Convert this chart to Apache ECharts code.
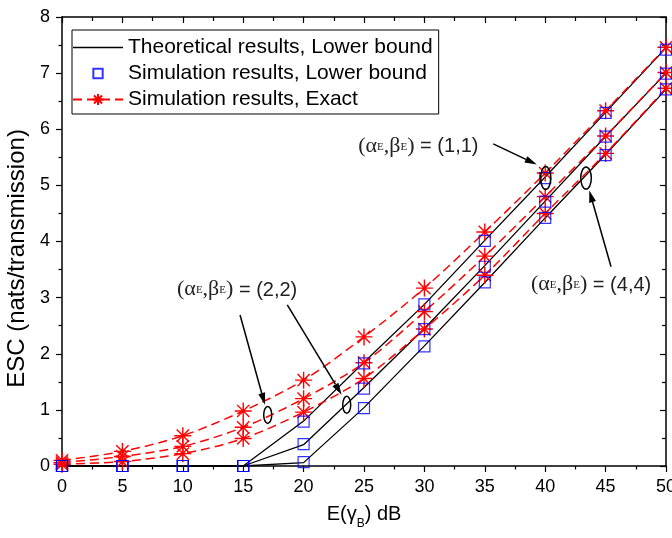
<!DOCTYPE html>
<html>
<head>
<meta charset="utf-8">
<script src="https://cdn.jsdelivr.net/npm/echarts@6/dist/echarts.min.js"></script>
<style>
  html, body { margin: 0; padding: 0; background: #fff; }
  #main { width: 672px; height: 538px; }
</style>
</head>
<body>
<div id="main"></div>
<script>
// x positions (dB)
const snr = [0, 5, 10, 15, 20, 25, 30, 35, 40, 45, 50];

// theoretical lower bound, (1,1) (2,2) (4,4)
const theory11 = [0, 0, 0, 0, 0.80, 1.85, 2.88, 4.02, 5.15, 6.30, 7.45];
const theory22 = [0, 0, 0, 0, 0.38, 1.40, 2.45, 3.57, 4.72, 5.87, 7.00];
const theory44 = [0, 0, 0, 0, 0.06, 1.04, 2.14, 3.27, 4.42, 5.55, 6.71];

// simulated lower bound (squares)
const simLow11 = [0, 0, 0, 0, 0.79, 1.83, 2.88, 4.01, 5.13, 6.29, 7.42];
const simLow22 = [0, 0, 0, 0, 0.39, 1.38, 2.44, 3.55, 4.71, 5.87, 6.99];
const simLow44 = [0, 0, 0, 0, 0.07, 1.03, 2.13, 3.27, 4.42, 5.54, 6.71];

// simulated exact (stars)
const exact11 = [0.10, 0.26, 0.54, 0.98, 1.53, 2.30, 3.17, 4.17, 5.22, 6.33, 7.46];
const exact22 = [0.06, 0.17, 0.35, 0.69, 1.20, 1.84, 2.75, 3.74, 4.80, 5.88, 7.01];
const exact44 = [0.03, 0.08, 0.22, 0.49, 0.96, 1.56, 2.44, 3.40, 4.50, 5.57, 6.73];

const legendNames = [
  'Theoretical results, Lower bound',
  'Simulation results, Lower bound',
  'Simulation results, Exact'
];

const sans = 'Liberation Sans, Arial, sans-serif';
const serif = 'Liberation Serif, Times New Roman, serif';
const starPath = 'path://M0,-1L0,1M-1,0L1,0M-0.72,-0.72L0.72,0.72M-0.72,0.72L0.72,-0.72';
const squarePath = 'path://M0,0L1,0L1,1L0,1Z';

const pairs = ys => snr.map((x, i) => [x, ys[i]]);

function theoryLine(ys) {
  return {
    name: legendNames[0], type: 'line', data: pairs(ys),
    symbol: 'none', z: 2,
    itemStyle: { color: '#000' },
    lineStyle: { color: '#000', width: 1.3 }
  };
}
function squares(ys) {
  return {
    name: legendNames[1], type: 'scatter', data: pairs(ys),
    symbol: squarePath, symbolSize: 11, z: 4,
    itemStyle: { color: 'rgba(0,0,0,0)', borderColor: '#0000ff', borderWidth: 1.2 }
  };
}
function exactLine(ys) {
  return {
    name: legendNames[2], type: 'line', data: pairs(ys),
    symbol: starPath, symbolSize: 17, smooth: 0.3, z: 3,
    lineStyle: { color: '#ff0000', width: 1.5, type: [9, 5] },
    itemStyle: { color: '#ff0000', borderColor: '#ff0000', borderWidth: 1.4 }
  };
}

const chart = echarts.init(document.getElementById('main'));

const baseAxis = {
  type: 'value',
  axisLine: { show: true, onZero: false, lineStyle: { color: '#000', width: 1.5 } },
  splitLine: { show: false }
};

chart.setOption({
  animation: false,
  backgroundColor: '#fff',
  grid: { left: 62, right: 6, top: 17, bottom: 72, outerBoundsMode: 'none' },
  legend: {
    data: [
      { name: legendNames[0], icon: 'path://M0,0L50,0L50,1.5L0,1.5Z' },
      { name: legendNames[1], icon: 'path://M0,0L1,0L1,1L0,1ZM-0.25,-0.25L-0.25,-0.25M1.25,1.25L1.25,1.25' },
      { name: legendNames[2] }
    ],
    orient: 'vertical',
    left: 72, top: 30,
    itemWidth: 50, itemHeight: 14, itemGap: 5,
    padding: [7, 6, 4, 0],
    borderColor: '#000', borderWidth: 1,
    textStyle: { fontSize: 21, color: '#000', fontFamily: sans }
  },
  xAxis: [
    Object.assign({}, baseAxis, {
      min: 0, max: 50, interval: 5, position: 'bottom',
      name: '{a|E(γ}{s|B}{a|) dB}', nameLocation: 'middle', nameGap: 38,
      nameTextStyle: {
        rich: {
          a: { fontSize: 20, fontFamily: sans, color: '#000', lineHeight: 24, verticalAlign: 'top' },
          s: { fontSize: 12, fontFamily: sans, color: '#000', lineHeight: 12, padding: [14, 0, 0, 0], verticalAlign: 'top' }
        }
      },
      axisTick: { show: true, inside: false, length: 6, lineStyle: { color: '#000', width: 1.2 } },
      minorTick: { show: true, splitNumber: 2, length: 3.5, lineStyle: { color: '#000', width: 1.2 } },
      axisLabel: { fontSize: 18, color: '#000', fontFamily: sans, margin: 12 }
    }),
    Object.assign({}, baseAxis, {
      min: 0, max: 50, interval: 5, position: 'top',
      axisTick: { show: true, inside: true, length: 6, lineStyle: { color: '#000', width: 1.2 } },
      minorTick: { show: true, splitNumber: 2, length: 4, lineStyle: { color: '#000', width: 1.2 } },
      axisLabel: { show: false }
    })
  ],
  yAxis: [
    Object.assign({}, baseAxis, {
      min: 0, max: 8, interval: 1, position: 'left',
      name: 'ESC (nats/transmission)', nameLocation: 'middle', nameGap: 29,
      nameTextStyle: { fontSize: 24, color: '#000', fontFamily: sans, padding: [0, 34, 0, 0] },
      axisTick: { show: true, inside: false, length: 6, lineStyle: { color: '#000', width: 1.2 } },
      minorTick: { show: true, splitNumber: 2, length: 3.5, lineStyle: { color: '#000', width: 1.2 } },
      axisLabel: { fontSize: 18, color: '#000', fontFamily: sans, margin: 12 }
    }),
    Object.assign({}, baseAxis, {
      min: 0, max: 8, interval: 1, position: 'right',
      axisTick: { show: true, inside: true, length: 6, lineStyle: { color: '#000', width: 1.2 } },
      minorTick: { show: true, splitNumber: 2, length: 4, lineStyle: { color: '#000', width: 1.2 } },
      axisLabel: { show: false }
    })
  ],
  series: [
    theoryLine(theory11), theoryLine(theory22), theoryLine(theory44),
    exactLine(exact11), exactLine(exact22), exactLine(exact44),
    squares(simLow11), squares(simLow22), squares(simLow44)
  ]
});

// annotation anchors in data units: label centre, arrow start, arrow tip, ellipse centre
const labels11 = { text: '(1,1)', at: [29.5, 5.72] };
const labels44 = { text: '(4,4)', at: [43.8, 3.26] };
const labels22 = { text: '(2,2)', at: [14.5, 3.17] };
const arrows = [
  { from: [35.7, 5.74], to: [39.3, 5.37] },
  { from: [45.45, 3.55], to: [43.65, 4.91] },
  { from: [14.74, 2.69], to: [16.8, 1.09] },
  { from: [18.65, 2.87], to: [23.15, 1.27] }
];
const ellipses = [
  { at: [40.04, 5.13], rx: 5, ry: 11.5 },
  { at: [43.38, 5.13], rx: 5.3, ry: 11 },
  { at: [17.03, 0.91], rx: 4, ry: 8.5 },
  { at: [23.57, 1.09], rx: 4, ry: 8.5 }
];

const px = p => chart.convertToPixel({ gridIndex: 0 }, p);
const graphics = [];

[labels11, labels44, labels22].forEach(l => {
  const p = px(l.at);
  graphics.push({
    type: 'text', x: p[0], y: p[1], z: 10,
    style: {
      text: '{a|(α}{e|E}{a|,β}{e|E}{a|)}{b| = ' + l.text + '}',
      align: 'center', verticalAlign: 'middle',
      rich: {
        a: { fontSize: 22, fontFamily: serif, fill: '#222', lineHeight: 24, verticalAlign: 'bottom' },
        e: { fontSize: 11, fontFamily: serif, fill: '#222', lineHeight: 11, padding: [0, 0, 4, 0], verticalAlign: 'bottom' },
        b: { fontSize: 20, fontFamily: sans, fill: '#222', lineHeight: 24, verticalAlign: 'bottom' }
      }
    }
  });
});

arrows.forEach(a => {
  const s = px(a.from), t = px(a.to);
  const dx = t[0] - s[0], dy = t[1] - s[1];
  const len = Math.sqrt(dx * dx + dy * dy);
  const ux = dx / len, uy = dy / len;
  const L = 12, W = 3.5;
  const bx = t[0] - ux * L, by = t[1] - uy * L;
  graphics.push({
    type: 'line', z: 10,
    shape: { x1: s[0], y1: s[1], x2: bx, y2: by },
    style: { stroke: '#000', lineWidth: 1.5 }
  });
  graphics.push({
    type: 'polygon', z: 10,
    shape: { points: [t, [bx - uy * W, by + ux * W], [bx + uy * W, by - ux * W]] },
    style: { fill: '#000' }
  });
});

ellipses.forEach(e => {
  const p = px(e.at);
  graphics.push({
    type: 'ellipse', z: 10,
    shape: { cx: p[0], cy: p[1], rx: e.rx, ry: e.ry },
    style: { fill: 'none', stroke: '#000', lineWidth: 1.5 }
  });
});

chart.setOption({ graphic: graphics });
</script>
</body>
</html>
